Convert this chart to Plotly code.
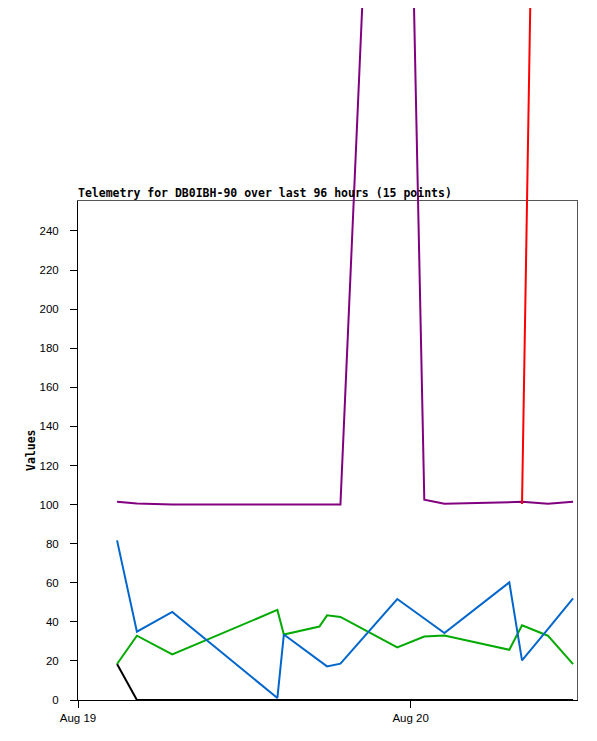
import plotly.graph_objects as go

# sample times (15 telemetry points)
times = [
    "2024-08-19 02:49", "2024-08-19 04:15", "2024-08-19 06:48", "2024-08-19 14:23",
    "2024-08-19 14:51", "2024-08-19 17:25", "2024-08-19 17:58", "2024-08-19 18:56",
    "2024-08-19 23:02", "2024-08-20 00:59", "2024-08-20 02:26", "2024-08-20 07:07",
    "2024-08-20 08:02", "2024-08-20 09:54", "2024-08-20 11:43",
]

# channel values
ch_black = [18.4, 0, 0, 0, 0, 0, 0, 0, 0, 0, 0, 0, 0, 0, 0]
ch_purple = [101.5, 100.5, 100, 100, 100, 100, 100, 100, 765, 102.5, 100.4, 101, 101.4, 100.4, 101.4]
ch_red = [None, None, None, None, None, None, None, None, None, None, None, None, 100.3, 900, 880]
ch_green = [18.4, 32.9, 23.3, 46.1, 33.5, 37.6, 43.3, 42.5, 26.9, 32.5, 33, 25.7, 38.2, 32.9, 18.4]
ch_blue = [81.7, 35, 45.1, 1, 33.5, 20.2, 17.2, 18.6, 51.7, 41.7, 34.3, 60.2, 20.3, 36.3, 52]

x_range = ["2024-08-19 00:00", "2024-08-20 12:00"]
x_ticks = ["2024-08-19", "2024-08-20"]
x_ticktext = ["Aug 19", "Aug 20"]
y_ticks = list(range(0, 241, 20))
y_top = 255.6

title_text = "Telemetry for DB0IBH-90 over last 96 hours (15 points)"

# the page body adds an 8px margin, so the figure is drawn 8px smaller
OFF = 8
W, H = 597 - OFF, 741 - OFF
M_L, M_R, M_T, M_B = 70, 20, 0, 41
plot_h = H - M_T - M_B
frame_top = 200.5 - OFF  # px from top of figure
dom_top = (plot_h - frame_top) / plot_h
# hidden axis spans the whole height with the same scale, so big values run off the frame
y2_top = y_top / dom_top

mono = "DejaVu Sans Mono"
sans = "Liberation Sans"

fig = go.Figure()
# black stays inside the frame, draw it on the visible axes
fig.add_trace(go.Scatter(
    x=times, y=ch_black, mode="lines", xaxis="x", yaxis="y",
    line=dict(color="black", width=2), showlegend=False, hoverinfo="skip",
))
fig.add_trace(go.Scatter(
    x=times, y=ch_green, mode="lines", xaxis="x2", yaxis="y3",
    line=dict(color="#00aa00", width=2), showlegend=False, hoverinfo="skip",
))
for vals, col in [(ch_purple, "#800080"), (ch_red, "#ff0000"), (ch_blue, "#0066cc")]:
    fig.add_trace(go.Scatter(
        x=times, y=vals, mode="lines", xaxis="x", yaxis="y2",
        line=dict(color=col, width=2), showlegend=False, hoverinfo="skip",
    ))

fig.update_layout(
    width=W, height=H,
    margin=dict(l=M_L, r=M_R, t=M_T, b=M_B),
    paper_bgcolor="white", plot_bgcolor="rgba(0,0,0,0)",
    title=dict(
        text="<b>" + title_text + "</b>",
        font=dict(family=mono, size=11.5, color="black"),
        xref="paper", x=0, xanchor="left",
        yref="paper", y=(plot_h - (193 - OFF)) / plot_h, yanchor="middle",
    ),
    xaxis=dict(
        type="date", range=x_range, anchor="y", automargin=False,
        tickvals=x_ticks, ticktext=x_ticktext,
        ticks="outside", ticklen=7, tickcolor="black", tickwidth=1,
        showline=True, linecolor="black", linewidth=1,
        showgrid=False, zeroline=False,
        tickfont=dict(family=sans, size=11.5, color="black"),
    ),
    xaxis2=dict(
        type="date", range=x_range, overlaying="x", side="top", anchor="y3",
        automargin=False,
        showline=True, linecolor="#555555", linewidth=1,
        ticks="", showticklabels=False, showgrid=False, zeroline=False,
    ),
    yaxis=dict(
        domain=[0, dom_top], range=[0, y_top], anchor="x", automargin=False,
        tickvals=y_ticks,
        ticks="outside", ticklen=7, tickcolor="black", tickwidth=1,
        ticklabelstandoff=9,
        showline=True, linecolor="black", linewidth=1,
        showgrid=False, zeroline=False,
        tickfont=dict(family=sans, size=11.5, color="black"),
        title=dict(text="<b>Values</b>", font=dict(family=mono, size=11.5, color="black"), standoff=1),
    ),
    yaxis3=dict(
        overlaying="y", side="right", range=[0, y_top], anchor="x2",
        automargin=False,
        showline=True, linecolor="#555555", linewidth=1,
        ticks="", showticklabels=False, showgrid=False, zeroline=False,
    ),
    yaxis2=dict(
        domain=[0, 1], range=[0, y2_top], anchor="x", visible=False,
    ),
)

fig.write_html("out.html")
